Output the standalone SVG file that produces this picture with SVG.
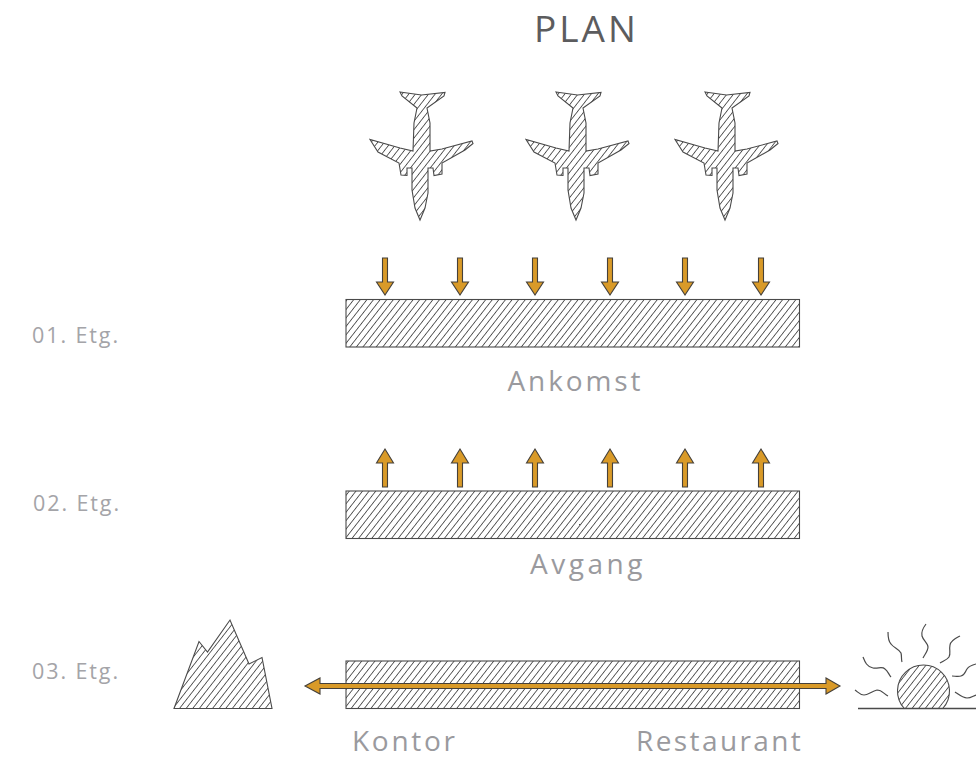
<svg xmlns="http://www.w3.org/2000/svg" width="976" height="757" viewBox="0 0 976 757">
<style>
text{font-family:"Open Sans","Noto Sans",sans-serif;fill:#9a9a9e}
.h{fill:url(#hatch);stroke:#4a4a4a;stroke-width:1.100}
.a{fill:#d99a28;stroke:#45403a;stroke-width:1.100}
.r{fill:none;stroke:#4a4a4a;stroke-width:1.200}
.fl{font-size:21.500px;letter-spacing:1.900px;fill:#a4a4a8}
.lb{font-size:28px}
</style>
<defs>
<pattern id="hatch" width="5.200" height="6" patternUnits="userSpaceOnUse" patternTransform="rotate(38)">
<rect width="5.200" height="6" fill="#fff"/><line x1="0" y1="0" x2="0" y2="6" stroke="#4a4a4a" stroke-width="1.700"/>
</pattern>
<path id="plane" d="M400 92 421.500 95 445 92.500 444 96 427 108 430 123 430 151 442 149 472 141 473 143.500 465 150 442 163 442 174 434 175.500 433 168 428 168 428 193 425 208 420 220 415 208 412 190 412 168 407 168 407 175.500 401 175 399 163 378 152 370 139.500 400 148 413 151 414 123 417 108 402 96Z"/>
<path id="down" d="M382.500 258H387.500V282H393.500L385 295 376.500 282H382.500Z"/>
<path id="up" d="M382.500 487H387.500V463H393.500L385 449 376.500 463H382.500Z"/>
</defs>
<g id="title"><text x="534" y="42" style="font-size:37px;letter-spacing:3px;fill:#5c5c5e">PLAN</text></g>
<g id="floor-labels">
<text class="fl" x="32" y="343">01. Etg.</text>
<text class="fl" x="33" y="510.500">02. Etg.</text>
<text class="fl" x="32" y="679">03. Etg.</text>
</g>
<g id="planes">
<use href="#plane" class="h"/>
<use href="#plane" class="h" x="156"/>
<use href="#plane" class="h" x="305"/>
</g>
<g id="floor1"><rect class="h" x="346" y="299.500" width="453.500" height="47.500"/><text class="lb" x="507.500" y="391" style="letter-spacing:2.900px">Ankomst</text></g>
<g id="floor2"><rect class="h" x="346" y="491" width="453.500" height="47.500"/><text class="lb" x="530" y="574" style="letter-spacing:3.500px">Avgang</text></g>
<g id="floor3"><rect class="h" x="346" y="661" width="453.500" height="47.500"/><text class="lb" x="352" y="751" style="letter-spacing:2.700px">Kontor</text><text class="lb" x="636" y="751" style="letter-spacing:2.400px">Restaurant</text></g>
<g id="mountain"><path class="h" d="M174 708.500 199 641.500 207.500 652 230 620 249 664 262 657.500 272 708.500Z"/></g>
<g id="sun">
<path class="h" d="M904.300 708.500A26 26 0 1 1 942.700 708.500Z"/>
<path class="r" style="stroke-width:1.400" d="M858 708.500H976"/>
<path class="r" d="M855 690C858 692 860 695 864 695 868 695 872 691 877 690 882 690 884 694 888 696"/>
<path class="r" d="M863 657C865 662 867 667 873 668 878 669 882 666 885 669 888 671 889 675 891 677"/>
<path class="r" d="M888 632C888 637 888 641 891 644 894 648 899 649 901 653 902 657 901 659 902 662"/>
<path class="r" d="M926 624C923 628 921 632 922 636 923 640 928 643 928 647 928 651 925 654 923 658"/>
<path class="r" d="M960 636C956 638 951 640 950 645 949 650 951 654 949 657 947 660 943 661 940 663"/>
<path class="r" d="M976 664C972 665 969 666 967 669 965 672 965 675 961 676 958 677 955 676 952 676"/>
<path class="r" d="M955 692C958 694 963 698 967 698 971 698 973 696 976 695"/>
</g>
<g id="connectors">
<use href="#down" class="a"/><use href="#down" class="a" x="75"/><use href="#down" class="a" x="150"/><use href="#down" class="a" x="225"/><use href="#down" class="a" x="300"/><use href="#down" class="a" x="376"/>
<use href="#up" class="a"/><use href="#up" class="a" x="75"/><use href="#up" class="a" x="150"/><use href="#up" class="a" x="225"/><use href="#up" class="a" x="300"/><use href="#up" class="a" x="376"/>
<path class="a" d="M305 686 320 678V683.500H826V678L840 686 826 694V688.500H320V694Z"/>
</g>
</svg>
